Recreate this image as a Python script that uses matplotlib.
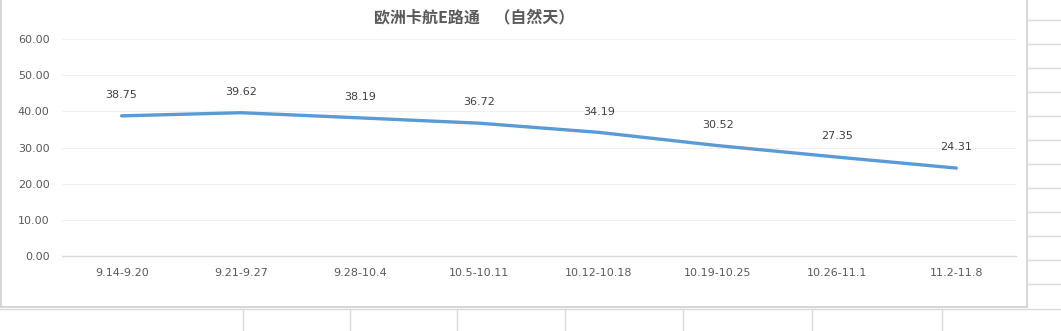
import matplotlib
matplotlib.use("Agg")
import matplotlib.pyplot as plt
import numpy as np
from matplotlib.lines import Line2D

categories = ["9.14-9.20", "9.21-9.27", "9.28-10.4", "10.5-10.11",
              "10.12-10.18", "10.19-10.25", "10.26-11.1", "11.2-11.8"]
values = [38.75, 39.62, 38.19, 36.72, 34.19, 30.52, 27.35, 24.31]
yticks = [0, 10, 20, 30, 40, 50, 60]
title = "欧洲卡航E路通    （自然天）"

W, H = 1061, 331
fig = plt.figure(figsize=(W / 100, H / 100), dpi=100)
fig.patch.set_facecolor("white")

def fx(x):
    return x / W

def fy(y):
    return 1 - y / H

grid_c = "#DADADA"
# spreadsheet cell grid outside the chart
for yy in [20, 44, 68, 92, 116, 140, 164, 188, 212, 236, 260, 284]:
    fig.add_artist(Line2D([fx(1027), fx(1061)], [fy(yy), fy(yy)], color=grid_c, lw=1))
fig.add_artist(Line2D([fx(0), fx(1061)], [fy(309), fy(309)], color=grid_c, lw=1))
for xx in [243, 350, 457, 565, 683, 812, 942]:
    fig.add_artist(Line2D([fx(xx), fx(xx)], [fy(309), fy(331)], color=grid_c, lw=1))
# chart frame
fig.add_artist(Line2D([fx(1026.5), fx(1026.5)], [fy(0), fy(307)], color="#D0D0D0", lw=1.2))
fig.add_artist(Line2D([fx(0.5), fx(1026.5)], [fy(306.5), fy(306.5)], color="#D0D0D0", lw=1.2))
fig.add_artist(Line2D([fx(0.5), fx(0.5)], [fy(0), fy(307)], color="#D0D0D0", lw=1.2))

ax = fig.add_axes([fx(62), fy(256), fx(1016) - fx(62), fy(39) - fy(256)])
ax.set_facecolor("none")
ax.set_xlim(-0.5, len(categories) - 0.5)
ax.set_ylim(0, 60)
ax.set_yticks(yticks)
ax.set_yticklabels([f"{v:.2f}" for v in yticks])
ax.set_xticks(range(len(categories)))
ax.set_xticklabels(categories)
ax.tick_params(axis="both", length=0, labelsize=8, labelcolor="#595959", pad=4)
ax.tick_params(axis="x", pad=9)
ax.tick_params(axis="y", pad=9)
for s in ["top", "right", "left"]:
    ax.spines[s].set_visible(False)
ax.spines["bottom"].set_color("#D9D9D9")
ax.spines["bottom"].set_linewidth(1)
ax.grid(axis="y", color="#F0F0F0", lw=0.8)
ax.set_axisbelow(True)

ax.plot(range(len(values)), values, color="#5B9BD5", lw=2.4,
        solid_capstyle="round", solid_joinstyle="round")

for i, v in enumerate(values):
    ax.annotate(f"{v:.2f}", (i, v), xytext=(0, 15), textcoords="offset points",
                ha="center", va="center", fontsize=8, color="#404040")

fig.text(fx(474), fy(17), title, ha="center", va="center", fontsize=11.5,
         fontweight="bold", color="#595959",
         family=["Noto Sans CJK SC", "DejaVu Sans"])

fig.savefig("out.png", dpi=100, facecolor="white")
